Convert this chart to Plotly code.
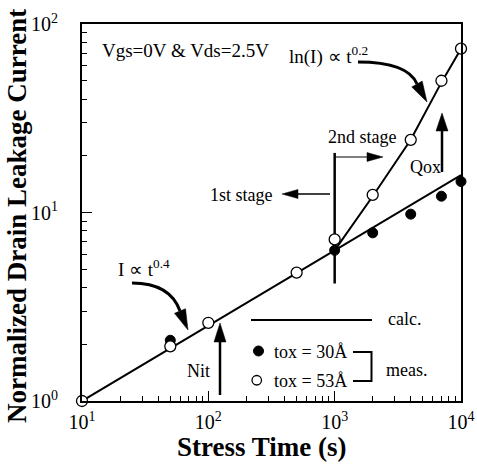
import plotly.graph_objects as go

# ---------------- data ----------------
t_53 = [10, 50, 100, 500, 1000, 2000, 4000, 7000, 10000]
I_53 = [1.0, 1.95, 2.6, 4.8, 7.2, 12.4, 24.3, 50.0, 74.0]
t_30 = [50, 1000, 2000, 4000, 7000, 10000]
I_30 = [2.1, 6.3, 7.8, 9.8, 12.2, 14.6]
t_calc1 = [10, 10000]
I_calc1 = [1.0, 15.8]
t_calc2 = [1000, 2000, 4000, 7000, 10000]
I_calc2 = [6.3, 12.2, 24.3, 49.0, 74.0]
t_div = [1000, 1000]
I_div = [4.2, 20.7]
x_tickvals = [10, 100, 1000, 10000]
x_ticktext = ["10<sup>1</sup>", "10<sup>2</sup>", "10<sup>3</sup>", "10<sup>4</sup>"]
y_tickvals = [1, 10, 100]
y_ticktext = ["10<sup>0</sup>", "10<sup>1</sup>", "10<sup>2</sup>"]
x_minor = [k * 10 ** e for e in (1, 2, 3) for k in range(2, 10)]
y_minor = [k * 10 ** e for e in (0, 1) for k in range(2, 10)]

FONT = "Liberation Serif"
W, H = 477, 465
L, R, T, B = 82, 461, 24, 401  # plot area in pixels


def px(x):
    return (x - L) / (R - L)


def py(y):
    return (B - y) / (B - T)


def path_from(points, close=False):
    s = "M " + " L ".join(f"{px(x):.5f},{py(y):.5f}" for x, y in points)
    return s + (" Z" if close else "")


fig = go.Figure()

line_style = dict(color="black", width=2)
fig.add_trace(go.Scatter(x=t_calc1, y=I_calc1, mode="lines", line=line_style, showlegend=False))
fig.add_trace(go.Scatter(x=t_calc2, y=I_calc2, mode="lines", line=line_style, showlegend=False))
fig.add_trace(go.Scatter(x=t_div, y=I_div, mode="lines", line=dict(color="black", width=2.5), showlegend=False))
fig.add_trace(go.Scatter(x=t_30, y=I_30, mode="markers", cliponaxis=False,
                         marker=dict(size=10, color="black", line=dict(color="black", width=1)),
                         showlegend=False))
fig.add_trace(go.Scatter(x=t_53, y=I_53, mode="markers", cliponaxis=False,
                         marker=dict(size=11, color="white", line=dict(color="black", width=1.3)),
                         showlegend=False))

shapes = []
annotations = []


def text(s, x, y, xanchor="left", size=18, yanchor="middle"):
    annotations.append(dict(text=s, x=px(x), y=py(y), xref="paper", yref="paper",
                            xanchor=xanchor, yanchor=yanchor, showarrow=False,
                            font=dict(family=FONT, size=size, color="black")))


def arrow(tail, tip, hl, hw, lw):
    (x0, y0), (x1, y1) = tail, tip
    dx, dy = x1 - x0, y1 - y0
    n = (dx * dx + dy * dy) ** 0.5
    ux, uy = dx / n, dy / n
    bx, by = x1 - ux * hl, y1 - uy * hl
    shapes.append(dict(type="path", xref="paper", yref="paper",
                       path=path_from([(x0, y0), (bx + ux * 2, by + uy * 2)]),
                       line=dict(color="black", width=lw)))
    shapes.append(dict(type="path", xref="paper", yref="paper",
                       path=path_from([(x1, y1), (bx - uy * hw / 2, by + ux * hw / 2),
                                       (bx + uy * hw / 2, by - ux * hw / 2)], close=True),
                       fillcolor="black", line=dict(color="black", width=0.5)))


def curved_arrow(p0, c, p1, tip, hw):
    shapes.append(dict(type="path", xref="paper", yref="paper",
                       path=f"M {px(p0[0]):.5f},{py(p0[1]):.5f} Q {px(c[0]):.5f},{py(c[1]):.5f} {px(p1[0]):.5f},{py(p1[1]):.5f}",
                       line=dict(color="black", width=3)))
    dx, dy = tip[0] - p1[0], tip[1] - p1[1]
    n = (dx * dx + dy * dy) ** 0.5
    ux, uy = dx / n, dy / n
    shapes.append(dict(type="path", xref="paper", yref="paper",
                       path=path_from([tip, (p1[0] - uy * hw / 2, p1[1] + ux * hw / 2),
                                       (p1[0] + uy * hw / 2, p1[1] - ux * hw / 2)], close=True),
                       fillcolor="black", line=dict(color="black", width=0.5)))


# texts
text("Vgs=0V &amp; Vds=2.5V", 100, 50, size=19)
text("ln(I) \u221d t<sup>0.2</sup>", 287, 55, size=19)
text("2nd stage", 398, 137, xanchor="right")
text("1st stage", 275, 195, xanchor="right")
text("Qox", 408, 167)
text("I \u221d t<sup>0.4</sup>", 116, 268, size=19)
text("Nit", 212, 371, xanchor="right")
text("calc.", 386, 319)
text("tox = 30\u00c5", 272, 352)
text("tox = 53\u00c5", 272, 381)
text("meas.", 384, 370)

# axis titles
annotations.append(dict(text="<b>Normalized Drain Leakage Current</b>", x=px(17), y=py(216),
                        xref="paper", yref="paper", textangle=-90, showarrow=False,
                        xanchor="center", yanchor="middle",
                        font=dict(family=FONT, size=27, color="black")))
annotations.append(dict(text="<b>Stress Time (s)</b>", x=px(262), y=py(447),
                        xref="paper", yref="paper", showarrow=False,
                        xanchor="center", yanchor="middle",
                        font=dict(family=FONT, size=27, color="black")))

# arrows
arrow((334, 157), (383, 157), 16, 9, 1.2)
arrow((330, 194), (282, 194), 16, 9, 1.5)
arrow((442, 172), (442, 113), 18, 12, 2.5)
arrow((220, 395), (220, 323), 19, 12, 2.5)
curved_arrow((358, 62), (408, 62), (417, 84), (427, 102), 12)
curved_arrow((132, 283), (170, 283), (180, 311), (188, 330), 12)

# legend
shapes.append(dict(type="line", xref="paper", yref="paper", x0=px(251), x1=px(372), y0=py(320), y1=py(320),
                   line=dict(color="black", width=2)))
shapes.append(dict(type="circle", xref="paper", yref="paper", x0=px(253.5), x1=px(263.5), y0=py(346), y1=py(356),
                   fillcolor="black", line=dict(color="black", width=1)))
shapes.append(dict(type="circle", xref="paper", yref="paper", x0=px(252), x1=px(261.5), y0=py(375.5), y1=py(385),
                   fillcolor="white", line=dict(color="black", width=1.3)))
shapes.append(dict(type="path", xref="paper", yref="paper",
                   path=path_from([(353, 352), (371.5, 352), (371.5, 381), (353, 381)]),
                   line=dict(color="black", width=2)))

axis_common = dict(type="log", showline=True, linewidth=2, linecolor="black", mirror=True,
                   ticks="inside", ticklen=10, tickwidth=1.5, tickcolor="black",
                   tickmode="array", showgrid=False, zeroline=False, automargin=False,
                   tickfont=dict(family=FONT, size=20, color="black"))

fig.update_layout(
    width=W, height=H,
    margin=dict(l=L, r=W - R, t=T, b=H - B, pad=0),
    plot_bgcolor="white", paper_bgcolor="white",
    showlegend=False,
    hovermode=False,
    xaxis=dict(axis_common, range=[1, 4], tickvals=x_tickvals, ticktext=x_ticktext,
               ticklabelstandoff=2,
               minor=dict(ticks="inside", ticklen=5, tickwidth=1, tickcolor="black",
                          tickmode="array", tickvals=x_minor, showgrid=False)),
    yaxis=dict(axis_common, range=[0, 2], tickvals=y_tickvals, ticktext=y_ticktext,
               ticklabelstandoff=18,
               minor=dict(ticks="inside", ticklen=5, tickwidth=1, tickcolor="black",
                          tickmode="array", tickvals=y_minor, showgrid=False)),
    shapes=shapes,
    annotations=annotations,
)

fig.write_html("out.html", config={"displayModeBar": False, "staticPlot": True},
               post_script="document.body.style.margin='0px';document.body.style.overflow='hidden';")
